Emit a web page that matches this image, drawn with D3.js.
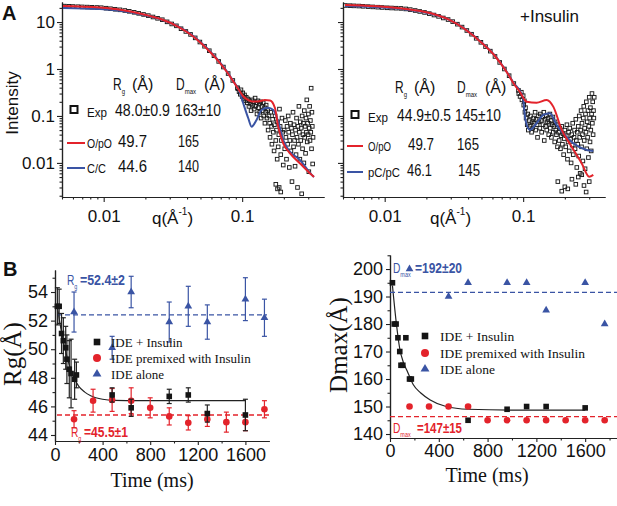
<!DOCTYPE html>
<html>
<head>
<meta charset="utf-8">
<script src="https://cdn.jsdelivr.net/npm/d3@7"></script>
<style>
body { margin: 0; background: #fff; }
svg text { font-family: "Liberation Sans", Arial, sans-serif; }
svg text.serif { font-family: "Liberation Serif", "Times New Roman", serif; }
</style>
</head>
<body>
<div id="chart"></div>
<script>
// ---------- panel A : SAXS profiles, [q, I] ----------
const expLeft = [
  [0.0052,21.8],[0.0056,21.6],[0.006,21.4],[0.0065,21.2],[0.007,21.0],[0.0076,20.8],[0.0082,20.6],[0.0089,20.4],
  [0.0096,20.2],[0.0104,19.7],[0.0112,19.2],[0.0121,18.7],[0.0131,18.2],[0.0142,17.6],[0.0153,16.9],[0.0166,16.1],
  [0.0179,15.3],[0.0194,14.5],[0.021,13.7],[0.0227,12.8],[0.0245,12.0],[0.0265,11.2],[0.0287,10.1],[0.031,9.1],
  [0.0335,8.3],[0.0362,7.2],[0.0392,6.3],[0.0424,5.45],[0.0458,4.6],[0.0495,3.75],[0.0535,3.05],[0.0579,2.45],
  [0.0626,1.92],[0.0677,1.45],[0.0732,1.1],[0.0792,0.8],[0.0856,0.57],[0.0925,0.40],
  [0.093,0.38],[0.095,0.33],[0.097,0.29],[0.098,0.36],[0.1,0.26],[0.101,0.31],[0.103,0.23],[0.104,0.28],[0.106,0.21],[0.107,0.25],
  [0.109,0.19],[0.11,0.23],[0.112,0.16],[0.113,0.21],[0.115,0.18],[0.116,0.13],[0.118,0.22],[0.119,0.17],[0.121,0.2],[0.122,0.14],
  [0.124,0.24],[0.125,0.16],[0.127,0.19],[0.128,0.11],[0.13,0.21],[0.131,0.15],[0.133,0.18],[0.134,0.12],[0.136,0.2],[0.137,0.09],
  [0.139,0.16],[0.14,0.13],[0.142,0.19],[0.143,0.1],[0.145,0.15],[0.146,0.07],[0.148,0.12],[0.149,0.17],
  [0.151,0.09],[0.153,0.13],[0.154,0.05],[0.156,0.1],[0.158,0.07],[0.159,0.035],[0.161,0.12],[0.163,0.06],[0.164,0.025],
  [0.166,0.085],[0.168,0.045],[0.17,0.018],[0.171,0.065],[0.173,0.1],[0.175,0.03],[0.177,0.05],[0.179,0.012],[0.18,0.075],
  [0.182,0.022],[0.184,0.04],[0.186,0.14],[0.188,0.06],[0.19,0.015],[0.192,0.03],[0.194,0.09],[0.196,0.045],[0.198,0.009],
  [0.175,0.0035],[0.18,0.0028],[0.185,0.003],[0.19,0.0024],
  [0.201,0.05],[0.203,0.02],[0.205,0.08],[0.207,0.035],[0.209,0.012],[0.211,0.06],[0.213,0.025],[0.215,0.1],[0.217,0.045],
  [0.219,0.008],[0.221,0.03],[0.223,0.07],[0.225,0.018],[0.227,0.055],[0.229,0.004],[0.231,0.04],[0.233,0.12],[0.235,0.022],
  [0.237,0.065],[0.239,0.03],[0.241,0.0085],[0.243,0.05],[0.245,0.015],[0.247,0.09],[0.249,0.035],[0.251,0.003],[0.253,0.06],
  [0.255,0.025],[0.257,0.16],[0.259,0.045],[0.261,0.012],[0.263,0.075],[0.265,0.03],[0.267,0.055],[0.269,0.0022],[0.271,0.1],
  [0.273,0.02],[0.275,0.04],[0.277,0.07],[0.279,0.01],[0.281,0.13],[0.283,0.035],[0.285,0.06],[0.287,0.016],[0.289,0.09],
  [0.291,0.045],[0.293,0.22],[0.295,0.028],[0.297,0.07],[0.299,0.04],[0.301,0.11],[0.303,0.0065],[0.305,0.055],[0.307,0.16],
  [0.309,0.03],[0.311,0.08],[0.313,0.045],[0.315,0.39],[0.317,0.02],[0.319,0.12],[0.321,0.06],[0.323,0.0095],[0.325,0.035]
];
const redLeft = [
  [0.00508,21.9],[0.0094,20.3],[0.01356,18.0],[0.0189,14.8],[0.02636,11.3],[0.0338,8.22],[0.042,5.56],[0.0513,3.40],
  [0.0606,2.08],[0.0692,1.34],[0.0777,0.863],[0.0859,0.556],[0.0948,0.357],[0.1014,0.266],[0.110,0.219],[0.1177,0.2035],
  [0.130,0.2035],[0.146,0.219],[0.159,0.214],[0.1726,0.148],[0.182,0.0592],[0.198,0.0262],[0.221,0.0161],[0.261,0.00986],
  [0.318,0.00556],[0.33,0.00503]
];
const blueLeft = [
  [0.00508,19.8],[0.0094,18.9],[0.01356,17.1],[0.0189,14.4],[0.02636,11.2],[0.0338,8.3],[0.042,5.7],[0.0513,3.5],
  [0.0606,2.15],[0.0692,1.38],[0.0777,0.88],[0.0859,0.56],[0.0948,0.35],[0.1018,0.186],[0.1107,0.0894],[0.117,0.0592],
  [0.127,0.0822],[0.138,0.134],[0.154,0.150],[0.168,0.134],[0.182,0.0757],[0.198,0.0308],[0.221,0.0174],[0.261,0.0116],
  [0.318,0.00556],[0.33,0.00503]
];
const expRight = [
  [0.0052,22.5],[0.0056,22.3],[0.006,22.1],[0.0065,21.9],[0.007,21.6],[0.0076,21.3],[0.0082,21.0],[0.0089,20.7],
  [0.0096,20.4],[0.0104,20.1],[0.0112,19.9],[0.0121,19.7],[0.0131,19.5],[0.0142,19.0],[0.0153,18.4],[0.0166,17.6],
  [0.0179,16.8],[0.0194,16.0],[0.021,15.1],[0.0227,14.1],[0.0245,13.2],[0.0265,12.2],[0.0287,11.3],[0.031,10.2],
  [0.0335,9.0],[0.0362,7.8],[0.0392,6.6],[0.0424,5.5],[0.0458,4.5],[0.0495,3.7],[0.0535,3.0],[0.0579,2.4],
  [0.0626,1.85],[0.0677,1.38],[0.0732,1.0],[0.0792,0.72],[0.0856,0.49],[0.0925,0.35],
  [0.093,0.3],[0.095,0.26],[0.097,0.32],[0.098,0.22],[0.1,0.27],[0.101,0.17],[0.102,0.21],[0.103,0.12],[0.104,0.15],
  [0.105,0.09],[0.107,0.065],[0.108,0.11],[0.109,0.05],[0.111,0.08],[0.112,0.06],[0.113,0.1],[0.115,0.045],[0.116,0.075],
  [0.117,0.055],[0.119,0.09],[0.12,0.07],[0.122,0.12],[0.123,0.05],[0.124,0.085],[0.126,0.065],[0.127,0.035],[0.129,0.1],
  [0.13,0.075],[0.132,0.055],[0.133,0.11],[0.135,0.08],[0.136,0.045],[0.138,0.095],[0.139,0.065],[0.141,0.12],[0.142,0.03],
  [0.144,0.085],[0.145,0.06],[0.147,0.1],[0.148,0.05],[0.15,0.075],[0.151,0.09],[0.153,0.04],[0.154,0.07],[0.156,0.11],
  [0.157,0.055],[0.159,0.08],[0.16,0.035],[0.162,0.065],[0.164,0.095],[0.165,0.045],[0.167,0.06],[0.169,0.028],[0.17,0.075],
  [0.172,0.05],[0.174,0.04],[0.176,0.065],[0.177,0.022],
  [0.18,0.045],[0.182,0.03],[0.184,0.055],[0.186,0.02],[0.188,0.038],[0.19,0.06],[0.192,0.025],[0.194,0.042],[0.196,0.015],
  [0.198,0.033],[0.2,0.05],[0.203,0.022],[0.205,0.038],[0.207,0.065],[0.209,0.012],[0.211,0.028],[0.213,0.045],[0.215,0.018],
  [0.217,0.055],[0.22,0.032],[0.222,0.01],[0.224,0.04],[0.226,0.024],[0.228,0.07],[0.23,0.015],[0.233,0.035],[0.235,0.05],
  [0.237,0.02],[0.24,0.085],[0.242,0.03],[0.244,0.008],[0.246,0.045],[0.248,0.025],
  [0.25,0.06],[0.252,0.014],[0.254,0.1],[0.256,0.035],[0.258,0.006],[0.26,0.05],[0.262,0.13],[0.264,0.022],[0.266,0.07],
  [0.268,0.04],[0.27,0.011],[0.272,0.09],[0.274,0.16],[0.276,0.03],[0.278,0.055],[0.28,0.0075],[0.282,0.11],[0.284,0.045],
  [0.286,0.2],[0.288,0.02],[0.29,0.075],[0.292,0.035],[0.294,0.13],[0.296,0.013],[0.298,0.06],[0.3,0.25],[0.302,0.09],
  [0.304,0.028],[0.306,0.15],[0.308,0.05],[0.31,0.018],[0.312,0.11],[0.314,0.3],[0.316,0.07],[0.318,0.2],[0.32,0.04],
  [0.322,0.13],[0.324,0.09],[0.326,0.25],
  [0.178,0.004],[0.19,0.0025],[0.2,0.0031],[0.21,0.0028],[0.225,0.0045],[0.24,0.0035],[0.25,0.005],[0.265,0.0056],
  [0.275,0.0033],[0.285,0.0024],[0.3,0.004]
];
const redRight = [
  [0.00517,23.0],[0.0129,19.6],[0.0296,11.0],[0.0513,3.40],[0.0626,1.89],[0.0692,1.28],[0.0777,0.783],[0.0859,0.480],
  [0.0948,0.324],[0.106,0.201],[0.125,0.192],[0.148,0.219],[0.165,0.158],[0.190,0.0504],[0.224,0.0222],[0.2645,0.00986],
  [0.300,0.0051],[0.321,0.00556]
];
const blueRight = [
  [0.00517,22.0],[0.0129,19.2],[0.0296,11.0],[0.0513,3.45],[0.0626,1.92],[0.0692,1.30],[0.0777,0.79],[0.0859,0.49],
  [0.0948,0.34],[0.0997,0.2415],[0.1039,0.0822],[0.112,0.0504],[0.125,0.070],[0.1397,0.105],[0.156,0.114],[0.1746,0.0643],
  [0.1938,0.0435],[0.229,0.0266],[0.2875,0.0189],[0.321,0.018]
];
const intensityTicks = [0.01, 0.1, 1, 10];
const qTicks = [0.01, 0.1];

// ---------- panel B : time courses ----------
const rgBlackT = [20, 35, 55, 70, 90, 100, 120, 135, 165, 180, 480, 640, 960, 1120, 1280, 1600];
const rgBlack = [53.0, 53.0, 51.1, 50.6, 50.1, 49.3, 48.6, 48.3, 47.9, 48.2, 46.8, 45.9, 46.7, 46.8, 45.5, 45.4];
const rgBlackErr = [1.3, 1.2, 1.4, 1.6, 1.5, 1.7, 2.0, 2.4, 1.4, 0.9, 0.5, 0.6, 0.5, 0.5, 0.6, 1.1];
const rgRedT = [160, 320, 480, 640, 800, 960, 1120, 1280, 1440, 1600, 1760];
const rgRed = [45.1, 46.4, 46.45, 46.4, 45.9, 45.3, 44.85, 45.1, 44.9, 44.9, 45.8];
const rgRedErr = [0.6, 0.8, 0.8, 0.9, 0.7, 0.6, 0.5, 0.5, 0.7, 0.6, 0.6];
const rgBlueT = [160, 480, 640, 960, 1120, 1280, 1600, 1760];
const rgBlue = [52.6, 50.1, 54.0, 51.9, 53.0, 51.9, 53.5, 52.2];
const rgBlueErr = [1.4, 0.8, 1.1, 1.4, 1.4, 1.2, 1.5, 1.3];
const rgFit = [[20,53.0],[40,51.9],[60,51.0],[80,50.2],[100,49.5],[120,48.9],[140,48.4],[160,48.0],[200,47.4],
  [250,47.0],[300,46.75],[400,46.5],[500,46.42],[700,46.4],[1000,46.4],[1600,46.4]];
const rgAlone = 52.4, rgPremixed = 45.4;
const rgTicks = [44, 46, 48, 50, 52, 54];

const dmBlackT = [20, 35, 50, 65, 80, 90, 105, 130, 160, 175, 640, 960, 1120, 1280, 1600];
const dmBlack = [195, 180, 180, 175, 170, 165, 165, 175, 160, 160, 145, 149, 150, 150, 149.5];
const dmRedT = [160, 320, 480, 640, 800, 960, 1120, 1280, 1440, 1600, 1760];
const dmRed = [150, 150, 150, 150, 145, 145, 145, 145, 145, 145, 145];
const dmBlueT = [160, 480, 640, 960, 1120, 1280, 1600, 1760];
const dmBlue = [200, 190, 195, 195, 195, 185, 195, 180];
const dmFit = [[20,194],[50,181],[80,171],[110,166],[140,163],[190,158],[250,155],[330,152.4],[460,150],
  [640,149],[1000,148.7],[1600,148.7]];
const dmAlone = 191.5, dmPremixed = 146.3;
const dmTicks = [140, 150, 160, 170, 180, 190, 200];
const timeTicks = [0, 400, 800, 1200, 1600];

const RED = "#e3232b", BLUE = "#3a54a4", AXIS = "#222";

const svg = d3.select("#chart").append("svg")
    .attr("width", 617)
    .attr("height", 506)
    .style("display", "block");

function txt(g, x, y, s, size, extra) {
    const t = g.append("text").attr("x", x).attr("y", y).attr("font-size", size).attr("fill", "#111").text(s);
    if (extra) Object.entries(extra).forEach(([k, v]) => t.attr(k, v));
    return t;
}

// symbol with a subscript, squeezed horizontally like the narrow font of the original
function subLabel(x, y, main, sub, size, subSize, sx, color) {
    const t = svg.append("text")
        .attr("transform", `translate(${x},${y}) scale(${sx},1)`)
        .attr("font-size", size)
        .attr("fill", color);
    t.append("tspan").text(main);
    t.append("tspan").attr("font-size", subSize).attr("dy", size * 0.25).text(sub);
    return t;
}

function styleAxis(a) {
    a.select(".domain").attr("stroke", AXIS).attr("stroke-width", 1.2);
    a.selectAll(".tick line").attr("stroke", AXIS).attr("stroke-width", 1.1);
}

function logMinors(lo, hi) {
    const out = [];
    for (let e = -4; e <= 2; e++) {
        for (let m = 2; m <= 9; m++) {
            const v = m * Math.pow(10, e);
            if (v >= lo && v <= hi) out.push(v);
        }
    }
    return out;
}

// ---------- SAXS panel ----------
function saxsPanel(x0, exp, red, blue, yLabels, qx) {
    const g = svg.append("g").attr("transform", `translate(${x0},0)`);
    const x = d3.scaleLog().domain([0.005, 0.39]).range([0, 262]);
    const y = d3.scaleLog().domain([0.00188, 26.7]).range([197, 2]);

    g.append("g").attr("transform", "translate(0,197)")
        .call(d3.axisBottom(x).tickValues(logMinors(0.005, 0.39)).tickSize(2.5).tickSizeOuter(0).tickFormat(""))
        .call(styleAxis);
    const xa = g.append("g").attr("transform", "translate(0,197)")
        .call(d3.axisBottom(x).tickValues(qTicks).tickSize(5).tickSizeOuter(0).tickPadding(8).tickFormat(d => String(d)))
        .call(styleAxis);
    xa.selectAll("text").attr("font-size", 17).attr("fill", "#111");

    g.append("g")
        .call(d3.axisLeft(y).tickValues(logMinors(0.00188, 26.7)).tickSize(2.5).tickSizeOuter(0).tickFormat(""))
        .call(styleAxis);
    const ya = g.append("g")
        .call(d3.axisLeft(y).tickValues(intensityTicks).tickSize(5).tickSizeOuter(0).tickPadding(2)
            .tickFormat(d => yLabels ? String(d) : ""))
        .call(styleAxis);
    ya.selectAll("text").attr("font-size", 17).attr("fill", "#111");

    g.append("g").selectAll("rect")
        .data(exp)
        .enter().append("rect")
        .attr("x", d => x(d[0]) - 1.8)
        .attr("y", d => y(d[1]) - 1.8)
        .attr("width", 3.6)
        .attr("height", 3.6)
        .attr("fill", "none")
        .attr("stroke", "#1b1b1b")
        .attr("stroke-width", 0.95);

    const line = d3.line().x(d => x(d[0])).y(d => y(d[1])).curve(d3.curveMonotoneX);
    g.append("path").datum(blue).attr("d", line).attr("fill", "none").attr("stroke", BLUE).attr("stroke-width", 2);
    g.append("path").datum(red).attr("d", line).attr("fill", "none").attr("stroke", RED).attr("stroke-width", 2);

    // q axis title
    const qt = g.append("text").attr("x", qx).attr("y", 224).attr("font-size", 17).attr("fill", "#111");
    qt.append("tspan").text("q(Å");
    qt.append("tspan").attr("font-size", 10).attr("dy", -9).text("-1");
    qt.append("tspan").attr("dy", 9).text(")");
    return g;
}

const gA1 = saxsPanel(62, expLeft, redLeft, blueLeft, true, 90);
const gA2 = saxsPanel(343, expRight, redRight, blueRight, false, 87);

txt(svg, 2, 20, "A", 20, {"font-weight": "bold"});
txt(svg, 0, 0, "Intensity", 17, {"transform": "translate(18,103) rotate(-90)", "text-anchor": "middle"});
txt(svg, 520, 22, "+Insulin", 17);

function saxsLegend(p) {
    subLabel(p.rx, p.hy, "R", "g", 16, 8, 0.75, "#111");
    txt(svg, p.rx + 19, p.hy, "(Å)", 16);
    subLabel(p.dx, p.hy, "D", "max", 16, 8, 0.75, "#111");
    txt(svg, p.dx + 28, p.hy, "(Å)", 16);

    svg.append("rect").attr("x", p.mx - 3.5).attr("y", p.rows[0] - 10).attr("width", 7).attr("height", 7)
        .attr("fill", "none").attr("stroke", "#111").attr("stroke-width", 2);
    svg.append("line").attr("x1", p.lx0).attr("x2", p.lx1).attr("y1", p.rows[1] - 4).attr("y2", p.rows[1] - 4)
        .attr("stroke", RED).attr("stroke-width", 2);
    svg.append("line").attr("x1", p.lx0).attr("x2", p.lx1).attr("y1", p.rows[2] - 4).attr("y2", p.rows[2] - 4)
        .attr("stroke", BLUE).attr("stroke-width", 2);

    p.names.forEach((s, i) => txt(svg, p.nx, p.rows[i] + 1, s, 13, {"textLength": p.nameW[i], "lengthAdjust": "spacingAndGlyphs"}));
    p.rg.forEach((s, i) => txt(svg, p.gx[i], p.rows[i], s, 16, {"textLength": p.rgW[i], "lengthAdjust": "spacingAndGlyphs"}));
    p.dm.forEach((s, i) => txt(svg, p.mmx[i], p.rows[i], s, 16, {"textLength": p.dmW[i], "lengthAdjust": "spacingAndGlyphs"}));
}

saxsLegend({
    rx: 113, dx: 176, hy: 90, mx: 74, lx0: 67, lx1: 85, rows: [116, 147, 172], nx: 87,
    names: ["Exp", "O/pO", "C/C"], nameW: [20, 25, 19],
    rg: ["48.0±0.9", "49.7", "44.6"], gx: [115, 118, 118], rgW: [55, 29, 29],
    dm: ["163±10", "165", "140"], mmx: [175, 178, 178], dmW: [46, 21, 21]
});
saxsLegend({
    rx: 395, dx: 457, hy: 93, mx: 355, lx0: 347, lx1: 363, rows: [121, 150, 176], nx: 368,
    names: ["Exp", "O/pO", "pC/pC"], nameW: [20, 23, 32],
    rg: ["44.9±0.5", "49.7", "46.1"], gx: [397, 408, 407], rgW: [54, 26, 25],
    dm: ["145±10", "165", "145"], mmx: [455, 457, 458], dmW: [46, 22, 22]
});

// ---------- time panels ----------
function timeAxes(g, x, y, yBase, yTicks, yMinor, tMinor, labelPad) {
    g.append("g").attr("transform", `translate(0,${yBase})`)
        .call(d3.axisBottom(x).tickValues(tMinor).tickSize(2.5).tickSizeOuter(0).tickFormat(""))
        .call(styleAxis);
    const xa = g.append("g").attr("transform", `translate(0,${yBase})`)
        .call(d3.axisBottom(x).tickValues(timeTicks).tickSize(4).tickSizeOuter(0).tickPadding(labelPad).tickFormat(d3.format("d")))
        .call(styleAxis);
    xa.selectAll("text").attr("font-size", 18).attr("fill", "#111");
    g.append("g").attr("transform", `translate(${x.range()[0]},0)`)
        .call(d3.axisLeft(y).tickValues(yMinor).tickSize(2.5).tickSizeOuter(0).tickFormat(""))
        .call(styleAxis);
    const ya = g.append("g").attr("transform", `translate(${x.range()[0]},0)`)
        .call(d3.axisLeft(y).tickValues(yTicks).tickSize(4).tickSizeOuter(0).tickPadding(3).tickFormat(d3.format("d")))
        .call(styleAxis);
    ya.selectAll("text").attr("font-size", 18).attr("fill", "#111");
}

function errBars(g, x, y, ts, vs, es, color) {
    ts.forEach((t, i) => {
        const cx = x(t), lo = y(vs[i] - es[i]), hi = y(vs[i] + es[i]);
        g.append("line").attr("x1", cx).attr("x2", cx).attr("y1", lo).attr("y2", hi)
            .attr("stroke", color).attr("stroke-width", 1.2);
        [lo, hi].forEach(yy => g.append("line").attr("x1", cx - 2.5).attr("x2", cx + 2.5).attr("y1", yy).attr("y2", yy)
            .attr("stroke", color).attr("stroke-width", 1.2));
    });
}

function markers(g, x, y, ts, vs, kind, s) {
    const pts = ts.map((t, i) => [x(t), y(vs[i])]);
    if (kind === "square") {
        g.append("g").selectAll("rect").data(pts).enter().append("rect")
            .attr("x", d => d[0] - s / 2).attr("y", d => d[1] - s / 2)
            .attr("width", s).attr("height", s).attr("fill", "#151515");
    } else if (kind === "circle") {
        g.append("g").selectAll("circle").data(pts).enter().append("circle")
            .attr("cx", d => d[0]).attr("cy", d => d[1]).attr("r", s).attr("fill", RED);
    } else {
        g.append("g").selectAll("path").data(pts).enter().append("path")
            .attr("transform", d => `translate(${d[0]},${d[1]})`)
            .attr("d", d3.symbol(d3.symbolTriangle).size(s)).attr("fill", BLUE);
    }
}

function legendB(g, mx, tx, rows, sizes) {
    const names = ["IDE + Insulin", "IDE premixed with Insulin", "IDE alone"];
    g.append("rect").attr("x", mx - 3.3).attr("y", rows[0] - 3.3).attr("width", 6.6).attr("height", 6.6).attr("fill", "#151515");
    g.append("circle").attr("cx", mx).attr("cy", rows[1]).attr("r", 4).attr("fill", RED);
    g.append("path").attr("transform", `translate(${mx},${rows[2]})`)
        .attr("d", d3.symbol(d3.symbolTriangle).size(34)).attr("fill", BLUE);
    names.forEach((s, i) => txt(g, tx, rows[i] + 4.5, s, sizes, {"class": "serif"}));
}

function annot(x, y, main, sub, val, valX, valW, color) {
    subLabel(x, y, main, sub, 15, 8, 0.68, color);
    txt(svg, valX, y, val, 14, {"fill": color, "font-weight": "bold", "textLength": valW, "lengthAdjust": "spacingAndGlyphs"});
}

// left: Rg
const gB1 = svg.append("g");
const xB1 = d3.scaleLinear().domain([0, 1800]).range([55, 269.2]);
const yB1 = d3.scaleLinear().domain([43.58, 55.54]).range([441, 270]);
timeAxes(gB1, xB1, yB1, 441, rgTicks, [45, 47, 49, 51, 53, 55], [200, 600, 1000, 1400], 3);

const fitLine1 = d3.line().x(d => xB1(d[0])).y(d => yB1(d[1])).curve(d3.curveMonotoneX);
gB1.append("path").datum(rgFit).attr("d", fitLine1).attr("fill", "none").attr("stroke", "#222").attr("stroke-width", 1.2);
gB1.append("line").attr("x1", 57).attr("x2", 267).attr("y1", yB1(rgAlone)).attr("y2", yB1(rgAlone))
    .attr("stroke", BLUE).attr("stroke-width", 1.3).attr("stroke-dasharray", "5,3");
gB1.append("line").attr("x1", 57).attr("x2", 269).attr("y1", yB1(rgPremixed)).attr("y2", yB1(rgPremixed))
    .attr("stroke", RED).attr("stroke-width", 1.3).attr("stroke-dasharray", "5,3");

errBars(gB1, xB1, yB1, rgRedT, rgRed, rgRedErr, RED);
markers(gB1, xB1, yB1, rgRedT, rgRed, "circle", 3.3);
errBars(gB1, xB1, yB1, rgBlackT, rgBlack, rgBlackErr, "#222");
markers(gB1, xB1, yB1, rgBlackT, rgBlack, "square", 5.6);
errBars(gB1, xB1, yB1, rgBlueT, rgBlue, rgBlueErr, BLUE);
markers(gB1, xB1, yB1, rgBlueT, rgBlue, "triangle", 26);
legendB(gB1, 97, 111, [342, 358, 374], 13);

annot(67, 285, "R", "g", "=52.4±2", 80, 45, BLUE);
annot(71, 437, "R", "g", "=45.5±1", 84, 44, RED);

txt(svg, 3, 276, "B", 20, {"font-weight": "bold"});
txt(svg, 0, 0, "Rg(Å)", 25, {"class": "serif", "transform": "translate(21,354) rotate(-90)", "text-anchor": "middle"});
txt(svg, 152, 487, "Time (ms)", 20, {"class": "serif", "text-anchor": "middle"});

// right: Dmax
const gB2 = svg.append("g");
const xB2 = d3.scaleLinear().domain([0, 1861]).range([390, 617]);
const yB2 = d3.scaleLinear().domain([138.55, 205.1]).range([438, 255]);
timeAxes(gB2, xB2, yB2, 438, dmTicks, [145, 155, 165, 175, 185, 195, 205], [200, 600, 1000, 1400, 1800], 2);

const fitLine2 = d3.line().x(d => xB2(d[0])).y(d => yB2(d[1])).curve(d3.curveMonotoneX);
gB2.append("path").datum(dmFit).attr("d", fitLine2).attr("fill", "none").attr("stroke", "#222").attr("stroke-width", 1.2);
gB2.append("line").attr("x1", 390).attr("x2", 617).attr("y1", yB2(dmAlone)).attr("y2", yB2(dmAlone))
    .attr("stroke", BLUE).attr("stroke-width", 1.3).attr("stroke-dasharray", "5,3");
gB2.append("line").attr("x1", 390).attr("x2", 617).attr("y1", yB2(dmPremixed)).attr("y2", yB2(dmPremixed))
    .attr("stroke", RED).attr("stroke-width", 1.3).attr("stroke-dasharray", "5,3");

markers(gB2, xB2, yB2, dmRedT, dmRed, "circle", 3.3);
markers(gB2, xB2, yB2, dmBlackT, dmBlack, "square", 5.6);
markers(gB2, xB2, yB2, dmBlueT, dmBlue, "triangle", 26);
legendB(gB2, 425, 440, [336, 353, 369], 13.5);

annot(393, 273, "D", "max", "=192±20", 415, 47, BLUE);
annot(393, 433, "D", "max", "=147±15", 417, 45, RED);

txt(svg, 0, 0, "Dmax(Å)", 25, {"class": "serif", "transform": "translate(347,345) rotate(-90)", "text-anchor": "middle"});
txt(svg, 487, 482, "Time (ms)", 20, {"class": "serif", "text-anchor": "middle"});
</script>
</body>
</html>
